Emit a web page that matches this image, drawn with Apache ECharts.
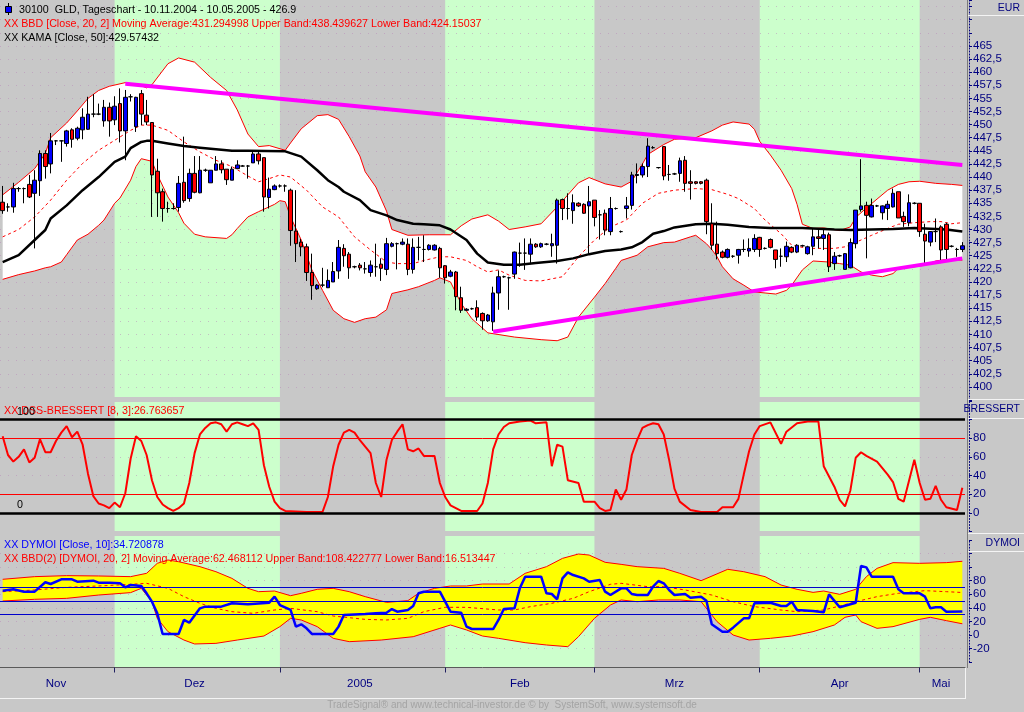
<!DOCTYPE html>
<html>
<head>
<meta charset="utf-8">
<script src="https://cdn.jsdelivr.net/npm/echarts@6/dist/echarts.min.js"></script>
<style>
html, body { margin: 0; padding: 0; background: #c8c8c8; }
#main { width: 1024px; height: 712px; }
</style>
</head>
<body>
<div id="main"></div>
<script>
// calendar days 10.11.2004 .. 09.05.2005 (one bar per day)
var days = [];
for (var k = 0; k < 181; k++) {
    var d = new Date(2004, 10, 10 + k);
    days.push(('0' + d.getDate()).slice(-2) + '.' + ('0' + (d.getMonth() + 1)).slice(-2) + '.' + d.getFullYear());
}
var monthStarts = [0];
days.forEach(function (s, i) { if (i > 0 && s.slice(0, 2) == '01') monthStarts.push(i); });
var monthNames = ['Nov', 'Dez', '2005', 'Feb', 'Mrz', 'Apr', 'Mai'];
var monthLabelAt = [10, 36, 67, 97, 126, 157, 176];

// candles
var opens = [435.2,434.3,434.3,437.8,437.8,438.6,436.9,439.3,444.5,442.5,
446.9,446.9,446.4,449.0,447.4,449.0,449.1,452.0,452.0,450.7,
453.3,450.9,454.0,448.8,455.3,449.6,455.9,451.8,450.4,441.1,
437.2,434.0,434.0,434.2,439.0,435.9,440.7,437.0,441.3,438.9,
441.3,442.5,441.5,439.4,441.6,442.1,442.1,442.7,444.4,443.7,
436.1,437.6,438.3,438.3,437.5,429.7,427.6,426.7,421.8,418.7,
419.4,418.9,420.0,422.1,426.4,425.3,422.9,423.2,422.5,421.8,
422.9,423.4,422.4,426.8,427.3,427.2,427.2,422.4,426.6,426.2,
426.2,426.1,426.4,423.1,421.1,421.9,417.0,414.6,414.9,415.1,
414.0,412.6,412.4,417.9,421.0,420.8,421.5,425.5,425.5,425.3,
427.2,426.7,427.2,426.9,427.0,435.7,434.0,433.6,435.0,434.8,
434.5,435.6,432.8,433.1,429.6,434.0,429.6,434.0,434.6,440.3,
440.4,442.0,445.6,441.8,445.8,440.5,440.6,440.7,443.2,439.1,
439.1,439.1,439.4,431.1,427.2,425.7,424.7,424.9,425.1,426.2,
425.9,426.2,428.5,426.4,428.1,426.1,424.9,424.8,426.6,425.7,
426.9,425.4,426.8,428.6,428.3,429.0,423.5,425.0,422.4,422.7,
427.3,433.8,434.6,432.4,434.5,433.2,434.0,434.3,437.2,432.5,
431.3,435.0,435.0,429.1,427.6,429.6,430.5,431.0,426.8,426.2,
426.2];
var closes = [433.6,434.3,437.8,437.8,437.8,436.2,439.4,444.5,442.0,446.9,
446.9,446.9,448.8,447.2,449.3,451.4,452.0,452.0,452.0,453.3,
450.7,453.5,448.8,455.2,455.3,455.2,452.0,450.5,440.4,437.0,
434.0,434.0,434.0,438.8,435.5,440.7,437.1,441.3,441.3,441.3,
442.5,441.4,439.5,441.5,442.3,442.1,442.1,444.4,443.1,436.2,
437.7,438.3,438.3,438.3,429.8,427.3,426.7,421.8,419.3,419.4,
419.4,420.3,422.0,426.6,425.0,422.7,422.9,422.7,422.5,423.2,
422.9,422.6,427.3,427.3,427.3,427.6,422.4,426.6,426.6,426.2,
427.0,427.0,422.7,420.8,421.9,417.2,414.6,414.8,414.9,413.3,
412.6,413.7,417.9,421.0,421.0,420.8,425.7,425.5,425.5,427.2,
426.7,427.3,427.2,427.3,435.6,434.0,434.0,435.1,434.5,433.1,
435.3,432.3,432.8,429.9,434.0,434.0,429.6,434.5,440.4,440.5,
442.0,445.9,445.6,441.8,440.2,440.5,440.6,443.1,438.8,438.8,
438.8,438.8,431.5,427.0,425.4,424.7,426.2,424.9,426.2,426.2,
426.4,428.3,426.2,426.4,426.6,424.3,424.9,426.8,425.7,427.0,
426.9,426.7,428.6,428.3,429.0,422.9,424.9,425.0,425.4,427.5,
433.7,434.5,432.7,434.6,434.5,434.5,434.8,436.9,432.2,431.5,
435.1,435.0,429.6,427.8,429.6,429.6,426.1,426.2,426.8,426.2,
426.9];
var lows = [433.0,433.4,433.2,437.2,435.0,436.0,426.4,436.4,439.7,440.7,
446.1,442.9,445.8,445.6,447.0,447.2,449.0,451.4,451.8,449.6,
447.7,449.9,446.6,443.2,454.4,448.6,449.9,449.9,432.4,432.4,
431.5,433.2,433.8,433.4,435.1,435.3,436.9,436.9,441.0,438.9,
441.3,440.7,438.5,439.4,441.6,442.0,439.7,442.7,442.4,433.4,
434.0,437.5,438.0,437.2,426.9,423.8,424.9,420.2,416.6,418.5,
419.0,418.9,420.0,420.6,422.9,420.6,422.6,422.2,421.6,421.0,
421.0,420.2,421.3,426.6,422.4,427.0,421.3,421.6,424.1,423.8,
426.0,426.0,420.8,419.7,420.9,414.6,414.1,414.5,414.7,412.6,
410.9,412.4,410.7,414.7,420.8,414.7,420.6,422.9,422.3,423.4,
426.5,426.5,427.0,424.8,423.5,431.8,431.9,431.1,434.3,433.0,
425.4,430.6,428.1,428.9,428.9,433.8,429.4,432.1,433.8,438.8,
439.9,440.0,445.4,441.6,439.4,439.3,440.4,439.1,437.2,435.7,
438.6,438.6,429.1,426.1,424.3,424.5,424.5,424.6,423.5,425.7,
424.8,425.7,424.8,426.2,426.4,422.6,422.9,423.8,425.5,425.5,
426.7,425.2,425.1,426.4,426.1,421.9,422.3,424.8,422.4,422.6,
426.4,433.4,424.5,432.3,434.3,431.9,431.8,434.2,432.2,430.5,
430.6,434.8,428.6,423.5,426.8,427.6,423.6,424.3,426.6,424.8,
425.7];
var highs = [438.3,435.0,438.9,438.1,438.0,440.4,441.3,445.1,445.1,448.4,
447.0,447.0,449.0,449.3,449.6,453.1,455.3,455.8,454.0,454.7,
454.2,455.4,456.9,456.6,455.8,455.3,456.6,454.7,450.4,443.5,
437.8,435.3,435.0,440.2,447.7,441.6,444.0,444.0,441.6,441.3,
444.0,443.2,441.5,442.0,443.2,442.3,442.3,445.1,445.1,443.7,
439.9,438.6,438.6,438.6,437.8,437.5,428.2,427.3,425.4,419.6,
422.7,422.4,423.8,428.0,427.2,425.7,423.1,423.6,423.8,424.1,
427.3,424.5,428.4,427.6,427.5,428.3,428.3,428.3,428.6,428.9,
427.2,427.2,426.7,423.2,422.3,422.1,419.1,415.0,415.1,416.5,
414.2,413.9,419.1,422.2,421.2,421.0,425.8,427.5,428.3,428.3,
427.4,427.5,427.4,429.2,435.9,435.9,436.9,436.7,435.2,435.0,
438.3,435.6,433.7,433.8,436.2,434.2,429.8,436.2,441.0,442.6,
442.6,447.4,445.9,441.9,445.9,442.3,440.8,443.7,444.0,441.3,
439.2,439.2,439.7,435.0,431.5,426.0,426.4,425.1,426.3,428.1,
428.3,429.1,428.6,426.6,428.3,426.1,426.4,427.7,426.8,427.2,
427.1,426.9,430.2,430.2,430.0,429.4,425.7,425.2,425.5,428.3,
433.7,443.4,435.3,435.9,434.7,434.6,435.5,437.8,437.2,433.4,
436.7,435.2,435.0,431.1,429.7,432.1,430.8,431.3,427.0,426.5,
427.6];

// BBD [Close, 20, 2] and KAMA, read as [day, value]
var bbUpper = [[0,436.6],[3,439.0],[6,441.6],[8,444.5],[9,447.5],[12,450.3],[14,452.6],[16,455.0],[18,456.5],[20,457.3],
[23,458.0],[26,457.4],[27,457.0],[28,457.6],[31,461.6],[33,462.7],[36,461.9],[39,459.0],[42,456.5],[44,452.8],
[46,448.2],[48,445.8],[50,446.0],[53,445.1],[54,446.5],[56,449.2],[59,451.7],[61,451.9],[63,451.0],[65,447.7],
[67,444.0],[68,441.0],[70,438.1],[72,433.5],[73,430.0],[76,428.9],[80,429.0],[84,429.0],[86,430.7],[88,432.0],
[91,432.8],[93,431.6],[95,430.0],[98,430.5],[101,431.1],[104,434.3],[106,436.6],[108,438.9],[110,439.9],[113,438.7],
[116,438.1],[118,439.2],[120,442.5],[121,444.3],[124,446.2],[126,447.2],[130,447.5],[133,448.8],[135,449.9],[137,450.5],
[140,450.1],[141,449.1],[142,446.8],[144,444.2],[146,441.3],[148,437.8],[149,434.8],[150,431.0],[152,430.2],[154,430.3],
[157,429.8],[159,430.5],[160,432.3],[162,434.1],[164,435.8],[166,437.5],[168,438.6],[170,439.1],[172,439.2],[175,438.8],
[178,438.6],[180,438.4]];
var bbLower = [[0,420.5],[3,421.4],[6,422.1],[8,422.7],[9,422.9],[11,423.8],[12,425.2],[14,428.0],[16,429.1],[18,430.8],
[19,431.8],[21,435.0],[22,436.0],[24,439.4],[25,442.0],[26,443.5],[28,443.0],[29,440.5],[31,436.2],[33,433.2],
[34,431.2],[36,429.1],[38,428.6],[42,428.3],[43,429.0],[44,430.2],[46,432.4],[48,433.4],[51,434.8],[52,435.5],
[53,435.3],[54,432.4],[56,428.0],[58,422.3],[60,418.4],[62,414.6],[64,413.0],[66,412.3],[68,413.0],[70,413.3],
[72,414.7],[73,417.8],[76,418.5],[78,419.1],[81,420.3],[82,420.8],[84,420.0],[86,415.9],[88,413.0],[91,410.3],
[96,409.5],[101,409.0],[104,408.8],[106,409.5],[108,413.3],[111,417.1],[113,419.7],[115,422.6],[116,424.1],[119,425.1],
[121,426.7],[124,427.5],[126,427.6],[129,428.6],[130,428.9],[132,427.3],[133,426.2],[134,424.8],[135,422.9],[137,420.6],
[139,419.4],[141,418.1],[143,417.9],[145,417.7],[147,418.4],[148,419.4],[150,422.3],[152,424.0],[155,423.8],[157,423.5],
[159,423.2],[161,421.9],[163,421.3],[165,421.0],[167,421.6],[168,422.6],[171,422.9],[173,423.2],[175,424.0],[177,424.3],
[180,424.15]];
var bbMid = [[0,428.6],[3,430.0],[6,432.4],[9,435.6],[12,439.4],[15,442.6],[18,445.1],[21,447.0],[24,448.9],[26,449.9],
[28,449.9],[31,448.9],[34,446.7],[37,444.8],[40,443.2],[43,442.0],[46,440.2],[48,439.1],[50,439.7],[52,440.4],
[54,440.0],[57,437.5],[60,434.3],[63,432.4],[66,428.6],[69,426.1],[72,423.8],[74,423.5],[77,423.5],[79,424.1],
[82,424.8],[84,424.8],[87,424.1],[89,422.9],[91,421.9],[93,422.3],[95,421.3],[98,420.3],[101,420.2],[105,421.0],
[108,424.8],[111,428.0],[114,430.5],[117,431.8],[120,435.0],[123,436.9],[126,437.5],[130,437.8],[133,437.6],[136,436.7],
[138,435.9],[141,434.0],[143,431.8],[146,429.2],[148,427.0],[151,426.4],[156,426.4],[158,426.7],[161,428.0],[163,428.9],
[166,430.2],[168,431.0],[171,431.3],[174,431.5],[176,431.5],[178,431.1],[180,431.3]];
var kama = [[0,423.8],[3,425.1],[6,428.0],[8,429.9],[9,432.1],[12,434.6],[15,437.5],[18,440.0],[21,442.9],[23,443.9],
[24,445.5],[26,446.7],[27,446.9],[28,446.9],[31,446.4],[34,445.9],[37,445.6],[40,445.3],[43,445.0],[46,445.0],
[53,444.9],[56,443.9],[59,441.3],[61,439.4],[63,438.1],[64,437.2],[67,435.6],[69,433.7],[72,432.7],[74,431.8],
[77,431.1],[79,431.0],[82,430.8],[84,430.0],[87,428.0],[89,425.4],[91,423.7],[94,423.3],[97,423.3],[100,423.6],
[104,424.0],[107,424.5],[110,425.3],[113,425.9],[116,426.2],[118,426.6],[120,427.6],[122,429.2],[124,429.7],[126,430.4],
[130,431.0],[133,431.1],[136,430.9],[140,430.5],[144,430.3],[150,430.3],[156,430.0],[159,429.9],[167,430.1],[171,430.3],
[177,430.0],[180,429.6]];
var trendTop = [[23,457.8],[180,442.3]];
var trendBottom = [[92,410.5],[180,424.5]];

// DSS-Bressert [8, 3]
var dss = [[0,82],[1,62],[2,55],[3,60],[4,68],[5,54],[6,59],[7,79],[8,65],[9,65],[10,77],[11,86],[12,93],[13,81],[14,87],
[15,73],[16,42],[17,18],[18,10],[19,8],[20,5],[21,11],[22,6],[23,21],[24,58],[25,82],[26,77],[27,62],[28,35],[29,17],
[30,9],[31,5],[32,2],[33,5],[34,10],[35,32],[36,64],[37,84],[38,91],[39,96],[40,97],[41,95],[42,87],[43,95],[44,97],
[45,95],[46,93],[47,96],[48,89],[49,51],[50,28],[51,12],[52,5],[53,2],[57,1],[60,1],[61,17],[62,50],[63,73],[64,86],
[65,89],[66,86],[67,78],[68,71],[69,64],[70,32],[71,17],[72,57],[73,78],[74,87],[75,95],[76,68],[77,66],[78,69],[79,61],
[81,61],[82,32],[83,17],[84,8],[86,2],[89,2],[90,10],[91,32],[92,68],[93,84],[94,92],[95,96],[97,98],[99,99],[100,96],
[102,97],[103,50],[104,73],[105,71],[106,35],[108,32],[109,12],[111,12],[112,5],[113,2],[114,3],[115,25],[116,14],[117,25],
[118,62],[119,78],[120,91],[121,94],[122,96],[123,95],[124,84],[125,57],[126,26],[127,12],[129,3],[131,1],[134,1],[135,6],
[137,6],[138,15],[139,41],[140,66],[141,84],[142,93],[144,97],[146,74],[147,87],[149,96],[151,98],[153,98],[154,50],
[156,28],[157,14],[158,7],[159,24],[160,59],[161,65],[162,61],[164,55],[166,41],[167,33],[168,15],[169,12],[171,57],
[172,32],[173,14],[174,15],[175,29],[176,14],[177,6],[179,3],[180,26.8]];
var dssLevels = [0, 20, 80, 100];

// DYMOI [Close, 10] and BBD(2) [DYMOI, 20, 2]
var dymoi = [[0,65.2],[2,67.2],[4,63.7],[6,63.7],[8,77.5],[9,75],[11,81.9],[13,81.9],[14,78.4],[17,79.9],[18,77],[20,77],
[22,76],[23,70.1],[24,73.5],[26,72.1],[27,61.3],[28,49],[29,31.9],[30,1.5],[33,1.5],[34,22.1],[35,18.1],[37,39.2],[38,41.7],
[41,41.7],[43,46.6],[46,45.1],[50,47.5],[51,56.4],[52,44.1],[54,36.8],[55,12.3],[56,15.7],[57,9.8],[58,1.5],[62,1.5],
[63,12.3],[64,29.4],[68,30.9],[70,31.9],[72,32.8],[73,38.2],[74,34.3],[76,36.8],[77,42.6],[78,61.3],[79,63.7],[82,63.7],
[83,49],[84,34.3],[86,32.8],[87,12.3],[88,8.8],[92,8.8],[93,22.1],[94,38.2],[96,39.2],[97,68.6],[98,85.8],[101,85.8],
[102,61.3],[103,60.3],[104,52.5],[105,83.3],[106,92.2],[107,88.2],[109,83.3],[110,78.4],[112,80.9],[113,63.7],[114,58.8],
[116,68.6],[117,68.6],[118,60.3],[119,58.8],[121,58.8],[122,71.1],[123,79.4],[124,76],[125,66.2],[126,58.8],[128,60.3],
[129,54.9],[131,56.4],[132,50.5],[133,15.7],[135,4.9],[136,4.9],[137,10.8],[139,24.5],[140,24.5],[141,46.6],[144,47.5],
[146,42.6],[147,42.6],[148,49],[149,36.8],[152,35.3],[154,33.3],[155,59.8],[157,40.7],[160,47.5],[161,101.5],[162,99.5],
[163,85.8],[167,85.8],[168,67.2],[169,61.3],[172,61.3],[173,56.4],[174,39.2],[175,40.7],[176,40.7],[177,34.3],[180,34.7]];
var dyUpper = [[0,81.9],[6,85.8],[12,87.3],[18,86.8],[24,85.8],[27,90.7],[29,105.4],[31,110.3],[33,107.8],[37,100.5],
[40,93.1],[43,83.3],[46,68.6],[48,63.7],[51,64.7],[54,57.8],[56,61.3],[59,67.2],[62,68.6],[65,63.7],[68,56.4],[72,48],
[76,50.5],[78,61.3],[81,68.6],[84,72.1],[87,72.1],[90,75],[95,75],[98,90.7],[102,100.5],[105,112.7],[108,119.1],[110,117.6],
[113,106.9],[116,103.9],[119,100.5],[124,98],[127,90.7],[131,79.9],[136,96.6],[139,93.1],[143,85.8],[146,73.5],[149,67.2],
[152,62.7],[154,64.7],[157,59.8],[160,67.2],[162,85.8],[164,98],[167,106.4],[172,105.4],[177,106.4],[180,108.4]];
var dyLower = [[0,50],[6,52.5],[12,53.9],[18,58.8],[24,62.3],[26,68.6],[28,49],[29,24.5],[31,4.9],[34,-7.4],[36,-13.2],
[40,-12.3],[44,-7.4],[49,-1.5],[52,12.3],[54,24.5],[56,22.1],[59,12.3],[62,-4.9],[65,-9.8],[71,-7.4],[77,-2.5],[82,9.8],
[84,14.7],[87,7.4],[90,-1.5],[93,-4.9],[98,-11.3],[102,-14.7],[106,-17.2],[108,-2.5],[111,24.5],[114,44.1],[116,51.5],
[119,49],[123,51.5],[127,51.5],[131,49],[134,19.6],[137,0],[140,-7.4],[144,-4.9],[148,-1.5],[152,4.9],[156,14.7],[158,26],
[160,29.4],[161,19.6],[164,9.8],[167,12.3],[172,23],[174,26],[177,21.1],[180,16.5]];
var dyMid = [[0,63.7],[6,66.2],[12,70.1],[18,72.1],[24,74.5],[27,76],[31,68.6],[34,56.4],[37,46.6],[40,39.2],[43,34.3],
[47,31.9],[51,36.8],[54,39.2],[59,34.3],[62,27.9],[68,23],[72,22.1],[76,24.5],[79,34.3],[83,40.7],[87,40.7],[93,36.8],
[96,36.8],[99,41.7],[103,46.6],[107,53.9],[110,63.7],[114,74.5],[116,76],[121,71.1],[124,71.1],[128,66.2],[133,58.8],
[137,49],[141,41.7],[146,36.8],[149,34.3],[154,36.8],[157,42.6],[160,49],[164,56.4],[168,61.3],[173,65.2],[177,63.7],
[180,62.5]];
var dyLevels = [30, 50, 70];

var F = '"Liberation Sans", Arial, sans-serif';
var GREEN = '#ccffcc', NAVY = '#000080', DOT = 'rgba(185,140,185,0.55)';

function xAx(gi, show) {
    return {
        type: 'category', gridIndex: gi, data: days, boundaryGap: true,
        axisLine: { show: show, lineStyle: { color: '#5a5a5a', width: 1 } },
        axisTick: { show: show, alignWithLabel: true, length: 5, lineStyle: { color: '#202060' },
            interval: function (idx) { return monthStarts.indexOf(idx) > 0; } },
        axisLabel: { show: show, color: NAVY, fontFamily: F, fontSize: 11.5, margin: 10,
            interval: function (idx) { return monthLabelAt.indexOf(idx) >= 0; },
            formatter: function (v, idx) { var m = monthLabelAt.indexOf(idx); return m >= 0 ? monthNames[m] : ''; } },
        splitLine: { show: false }
    };
}

function yAx(gi, min, max, step, lo, hi) {
    return {
        type: 'value', gridIndex: gi, position: 'right', offset: 4, min: min, max: max, interval: step,
        axisLine: { show: true, lineStyle: { color: NAVY, type: [1, 2] } },
        axisTick: { show: true, length: 3, lineStyle: { color: NAVY } },
        axisLabel: { color: NAVY, fontFamily: F, fontSize: 11.5, margin: 4,
            formatter: function (v) { return (v >= lo && v <= hi) ? String(v).replace('.', ',') : ''; } },
        splitLine: { show: true, showMinLine: false, showMaxLine: false, lineStyle: { color: DOT, type: [1, 7] } }
    };
}

function bgY(gi) {
    return { type: 'value', gridIndex: gi, min: 0, max: 1, show: false };
}

// green stripes for Dez, Feb, Apr
function stripes(gi) {
    return {
        type: 'custom', xAxisIndex: gi, yAxisIndex: gi, z: -10, silent: true,
        data: monthStarts.map(function (s, m) { return [s, m]; }),
        renderItem: function (params, api) {
            var m = params.dataIndex;
            if (m % 2 === 0) return { type: 'group', children: [] };
            var cs = params.coordSys;
            var x0 = api.coord([monthStarts[m], 0])[0];
            var x1 = m + 1 < monthStarts.length ? api.coord([monthStarts[m + 1], 0])[0] : cs.x + cs.width;
            return { type: 'rect', shape: { x: x0, y: cs.y, width: x1 - x0, height: cs.height }, style: { fill: GREEN } };
        }
    };
}

function bandFill(gi, up, lo, fill) {
    return {
        type: 'custom', xAxisIndex: gi, yAxisIndex: gi, z: 1, silent: true, data: [[0, 0]],
        renderItem: function (params, api) {
            var pts = [];
            up.forEach(function (p) { pts.push(api.coord(p)); });
            lo.slice().reverse().forEach(function (p) { pts.push(api.coord(p)); });
            return { type: 'polygon', shape: { points: pts }, style: { fill: fill } };
        }
    };
}

function line(gi, data, color, width, type, z) {
    return {
        type: 'line', xAxisIndex: gi, yAxisIndex: gi, data: data, symbol: 'none', silent: true, z: z,
        lineStyle: { color: color, width: width, type: type || 'solid' }
    };
}

function levels(vals, styleOf) {
    return {
        silent: true, symbol: ['none', 'none'], label: { show: false }, animation: false,
        data: vals.map(function (v) { return { yAxis: v, lineStyle: styleOf(v) }; })
    };
}

var candles = opens.map(function (o, i) { return [o, closes[i], lows[i], highs[i]]; });

var dssSeries = line(1, dss, '#ff0000', 2, null, 4);
dssSeries.markLine = levels(dssLevels, function (v) {
    return (v === 0 || v === 100) ? { color: '#000', width: 2.5, type: 'solid' } : { color: '#ff0000', width: 1, type: 'solid' };
});
var dyMidSeries = line(2, dyMid, '#ff0000', 1, [3, 3], 3);
dyMidSeries.markLine = levels(dyLevels, function () { return { color: '#0000cc', width: 1, type: 'solid' }; });

function txt(x, y, s, color, size, align) {
    return { type: 'text', x: x, y: y, z: 100, silent: true,
        style: { text: s, fill: color, font: (size || 10.7) + 'px ' + F, verticalAlign: 'middle', align: align || 'left' } };
}
function seg(x1, y1, x2, y2, color) {
    return { type: 'line', z: 90, silent: true, shape: { x1: x1, y1: y1, x2: x2, y2: y2 }, style: { stroke: color, lineWidth: 1 } };
}

var option = {
    backgroundColor: '#c8c8c8',
    animation: false,
    grid: [
        { left: 0, top: 0, width: 965, height: 400 },
        { left: 0, top: 400.9, width: 965, height: 130.6 },
        { left: 0, top: 539.8, width: 965, height: 122.4 },
        { left: 0, top: 0, width: 965, height: 397 },
        { left: 0, top: 402, width: 965, height: 129 },
        { left: 0, top: 536, width: 965, height: 131.5 }
    ],
    xAxis: [xAx(0, false), xAx(1, false), xAx(2, false), xAx(3, false), xAx(4, false), xAx(5, true)],
    yAxis: [yAx(0, 397.5, 473.75, 2.5, 400, 465), yAx(1, -20, 120, 20, 0, 80), yAx(2, -40, 140, 20, -20, 80),
        bgY(3), bgY(4), bgY(5)],
    series: [
        stripes(3), stripes(4), stripes(5),
        bandFill(0, bbUpper, bbLower, '#ffffff'),
        line(0, bbUpper, '#ff0000', 1, null, 3),
        line(0, bbLower, '#ff0000', 1, null, 3),
        line(0, bbMid, '#ff0000', 1, [3, 3], 3),
        line(0, kama, '#000000', 2.5, null, 4),
        {
            type: 'candlestick', xAxisIndex: 0, yAxisIndex: 0, data: candles, barWidth: 4, z: 5, silent: true,
            itemStyle: { color: '#0000ff', color0: '#ff0000', borderColor: '#000', borderColor0: '#000', borderWidth: 1 }
        },
        line(0, trendTop, '#ff00ff', 4, null, 6),
        line(0, trendBottom, '#ff00ff', 4, null, 6),
        dssSeries,
        bandFill(2, dyUpper, dyLower, '#ffff00'),
        line(2, dyUpper, '#ff0000', 1, null, 3),
        line(2, dyLower, '#ff0000', 1, null, 3),
        dyMidSeries,
        line(2, dymoi, '#0000ff', 2.5, null, 5)
    ],
    graphic: [
        { type: 'rect', z: 100, silent: true, shape: { x: 5.5, y: 6.5, width: 6, height: 6 }, style: { fill: '#0000ff', stroke: '#000', lineWidth: 1 } },
        seg(8.5, 3, 8.5, 15, '#000'),
        txt(19, 10, '30100  GLD, Tageschart - 10.11.2004 - 10.05.2005 - 426.9', '#000'),
        txt(4, 24, 'XX BBD [Close, 20, 2] Moving Average:431.294998 Upper Band:438.439627 Lower Band:424.15037', '#ff0000'),
        txt(4, 38, 'XX KAMA [Close, 50]:429.57432', '#000'),
        txt(4, 411, 'XX DSS-BRESSERT [8, 3]:26.763657', '#ff0000'),
        txt(17, 412, '100', '#000'),
        txt(17, 505, '0', '#000'),
        txt(4, 545, 'XX DYMOI [Close, 10]:34.720878', '#0000ff'),
        txt(4, 559, 'XX BBD(2) [DYMOI, 20, 2] Moving Average:62.468112 Upper Band:108.422777 Lower Band:16.513447', '#ff0000'),
        seg(967.5, 0, 967.5, 668, '#7a7a7a'),
        seg(968, 15.5, 1024, 15.5, '#f4f4f4'),
        txt(1020, 8, 'EUR', NAVY, 10.5, 'right'),
        seg(968, 399.5, 1024, 399.5, '#f4f4f4'),
        seg(968, 418.5, 1024, 418.5, '#f4f4f4'),
        txt(1020, 409, 'BRESSERT', NAVY, 10.5, 'right'),
        seg(968, 533.5, 1024, 533.5, '#f4f4f4'),
        seg(968, 551.5, 1024, 551.5, '#f4f4f4'),
        txt(1020, 543, 'DYMOI', NAVY, 10.5, 'right'),
        seg(0, 698.5, 966, 698.5, '#f4f4f4'),
        seg(965.5, 668, 965.5, 698.5, '#f4f4f4'),
        txt(512, 705, 'TradeSignal\u00ae and www.technical-investor.de \u00a9 by  SystemSoft, www.systemsoft.de', '#a4a4a4', 10, 'center')
    ]
};

var chart = echarts.init(document.getElementById('main'));
chart.setOption(option);
</script>
</body>
</html>
